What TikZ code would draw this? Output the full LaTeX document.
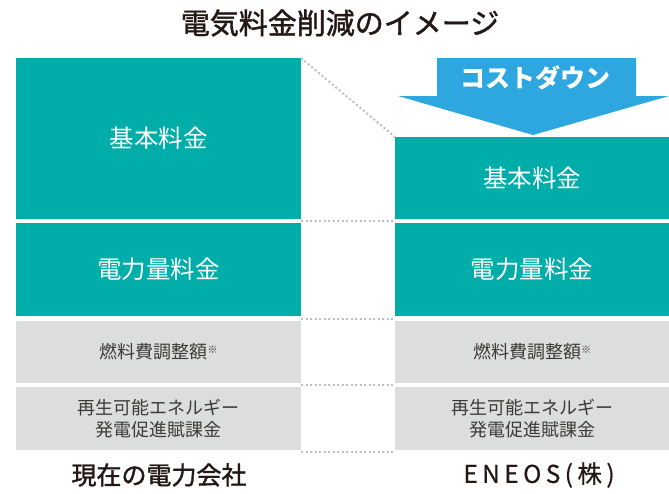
\documentclass[tikz,border=0pt]{standalone}
\usepackage{fontspec}
\setmainfont{Noto Sans CJK JP}
\usetikzlibrary{calc}
\definecolor{teal1}{HTML}{00ADA9}
\definecolor{gray1}{HTML}{DCDDDD}
\definecolor{blue1}{HTML}{2EA7E0}
\definecolor{ink}{HTML}{231815}
\definecolor{ink2}{HTML}{3E3A39}
\definecolor{dotc}{HTML}{C0C0C0}
\tikzset{
  tealbox/.style={fill=teal1, text=white, inner sep=0pt, outer sep=0pt, font=\fontsize{24.5}{28}\selectfont, align=center},
  graybox/.style={fill=gray1, text=ink2, inner sep=0pt, outer sep=0pt, font=\fontsize{18}{22}\selectfont, align=center},
  lcol/.style={minimum width=285pt},
  rcol/.style={minimum width=274pt},
  dotline/.style={draw=dotc, line width=2pt, dash pattern=on 2pt off 2.5pt},
  label/.style={text=ink, font=\fontsize{25}{28}\selectfont\addfontfeatures{FakeBold=1.5}, inner sep=0pt}
}
\newcommand{\kome}{\raisebox{5pt}{\fontsize{10}{10}\selectfont ※}}
\begin{document}
\begin{tikzpicture}[x=1pt,y=-1pt]
\useasboundingbox (0,0) rectangle (669,493);
% title
\node[text=ink, font=\fontsize{29}{32}\selectfont\addfontfeatures{FakeBold=1.5}, inner sep=0pt] (title) at (340,23) {電気料金削減のイメージ};
% left column
\node[tealbox, lcol, minimum height=161pt] (lbase) at (158.5,138.5) {基本料金};
\node[tealbox, lcol, minimum height=93pt] (lpow) at (158.5,269.5) {電力量料金};
\node[graybox, lcol, minimum height=62pt] (lfuel) at (158.5,352) {燃料費調整額\kome};
\node[graybox, lcol, minimum height=63pt] (lren) at (158.5,418.5) {再生可能エネルギー\\発電促進賦課金};
% right column
\node[tealbox, rcol, minimum height=82pt] (rbase) at (532,178) {基本料金};
\node[tealbox, rcol, minimum height=93pt] (rpow) at (532,269.5) {電力量料金};
\node[graybox, rcol, minimum height=62pt] (rfuel) at (532,352) {燃料費調整額\kome};
\node[graybox, rcol, minimum height=63pt] (rren) at (532,418.5) {再生可能エネルギー\\発電促進賦課金};
% arrow
\fill[blue1] (437,58) -- (636,58) -- (636,96) -- (669,96) -- (533,135) -- (398,96) -- (437,96) -- cycle;
\node[text=white, font=\bfseries\fontsize{25}{28}\selectfont, inner sep=0pt] (cd) at (535,78) {コストダウン};
% dotted connectors
\coordinate (d0a) at ($(lbase.south east)!0.5!(lpow.north east)$);
\coordinate (d0b) at ($(rbase.south west)!0.5!(rpow.north west)$);
\coordinate (d1a) at ($(lpow.south east)!0.5!(lfuel.north east)$);
\coordinate (d1b) at ($(rpow.south west)!0.5!(rfuel.north west)$);
\coordinate (d2a) at ($(lfuel.south east)!0.5!(lren.north east)$);
\coordinate (d2b) at ($(rfuel.south west)!0.5!(rren.north west)$);
\coordinate (d3a) at ($(lren.south east)+(0,2)$);
\coordinate (d3b) at ($(rren.south west)+(0,2)$);
\draw[dotline] (lbase.north east) -- (rbase.north west);
\draw[dotline] (d0a) -- (d0b);
\draw[dotline] (d1a) -- (d1b);
\draw[dotline] (d2a) -- (d2b);
\draw[dotline] (d3a) -- (d3b);
% bottom labels
\node[label] (lname) at (159,475) {現在の電力会社};
\node[text=ink, inner sep=0pt, font=\fontsize{24.5}{28}\selectfont\addfontfeatures{LetterSpace=18,FakeBold=0.6}] (rname) at (539,475) {ENEOS(株)};
\end{tikzpicture}
\end{document}
